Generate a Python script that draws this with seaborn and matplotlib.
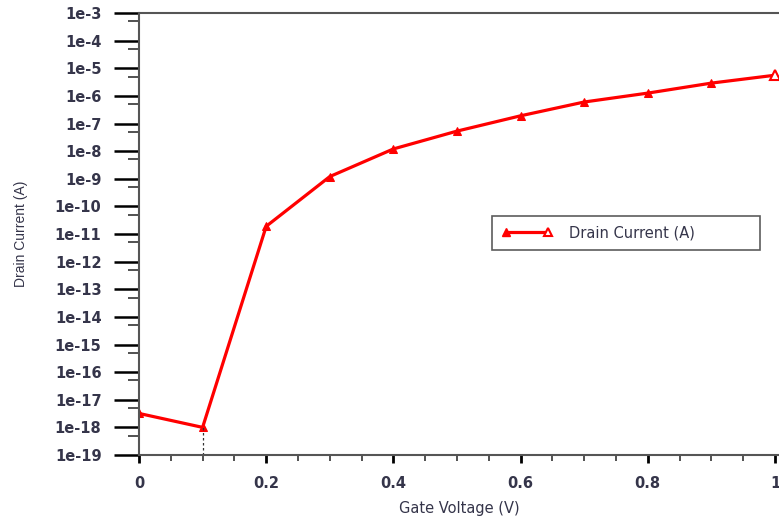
import numpy as np
import pandas as pd
import matplotlib
matplotlib.use("Agg")
import matplotlib.pyplot as plt
import seaborn as sns
from matplotlib.lines import Line2D
from matplotlib.legend_handler import HandlerTuple, HandlerLine2D
from matplotlib.ticker import FixedLocator, MultipleLocator

# datos
gate_voltage = [0.0, 0.1, 0.2, 0.3, 0.4, 0.5, 0.6, 0.7, 0.8, 0.9, 1.0]
drain_current = [3.2e-18, 1.0e-18, 1.9e-11, 1.2e-9, 1.2e-8, 5.3e-8,
                 1.9e-7, 6.0e-7, 1.26e-6, 2.9e-6, 5.6e-6]
y_exps = list(range(-19, -2))
y_labels = [f"1e{e}" for e in y_exps]
x_labels = ["0", "0.2", "0.4", "0.6", "0.8", "1"]

df = pd.DataFrame({"Gate Voltage (V)": gate_voltage,
                   "Drain Current (A)": drain_current})

sns.set_theme(style="white")
plt.rcParams['font.family'] = ['DejaVu Sans']

txt_color = "#35354a"


# handler para dibujar solo un marcador (izq o der) en la leyenda
class HandlerEnds(HandlerLine2D):
    def __init__(self, idx, **kw):
        super().__init__(**kw)
        self.idx = idx

    def create_artists(self, *args, **kw):
        arts = super().create_artists(*args, **kw)
        for a in arts:
            a.set_markevery([self.idx])
        return arts


fig = plt.figure(figsize=(7.79, 5.18), dpi=100)
ax = fig.add_axes([139 / 779, 1 - 455 / 518, 640 / 779, 442 / 518])

sns.lineplot(data=df, x="Gate Voltage (V)", y="Drain Current (A)", ax=ax,
             color="red", linewidth=2.3, marker="^", markersize=6,
             markeredgecolor="red", markerfacecolor="red")
# ultimo punto con triangulo vacio
ax.plot(gate_voltage[-1], drain_current[-1], marker="^", markersize=7,
        markerfacecolor="white", markeredgecolor="red", markeredgewidth=1.5,
        clip_on=False, zorder=5)

# linea punteada en el minimo
ax.vlines(gate_voltage[1], 1e-19, drain_current[1], colors="#333333",
          linestyles=(0, (2, 2)), linewidth=0.9)

ax.set_yscale("log")
ax.set_ylim(1e-19, 1e-3)
ax.set_xlim(0, 640 / 636)

ax.yaxis.set_major_locator(FixedLocator([10.0 ** e for e in y_exps]))
ax.set_yticklabels(y_labels)
ax.yaxis.set_minor_locator(FixedLocator([5 * 10.0 ** e for e in range(-19, -3)]))
ax.yaxis.set_minor_formatter(plt.NullFormatter())

ax.set_xticks([0, 0.2, 0.4, 0.6, 0.8, 1.0])
ax.set_xticklabels(x_labels)
ax.xaxis.set_minor_locator(MultipleLocator(0.05))

ax.tick_params(axis="y", which="major", direction="out", length=18, width=1.8,
               color="black", labelsize=10.5, labelcolor=txt_color, pad=9, left=True)
ax.tick_params(axis="y", which="minor", direction="out", length=8, width=1.2,
               color="#333333", left=True)
ax.tick_params(axis="x", which="major", direction="out", length=6, width=2,
               color="black", labelsize=10.5, labelcolor=txt_color, pad=9, bottom=True)
ax.tick_params(axis="x", which="minor", direction="out", length=4, width=1.2,
               color="#333333", bottom=True)

for lbl in ax.get_xticklabels() + ax.get_yticklabels():
    lbl.set_fontweight("bold")

for side in ["left", "bottom", "top"]:
    ax.spines[side].set_color("#555555")
    ax.spines[side].set_linewidth(1.5)
ax.spines["right"].set_visible(False)

ax.set_xlabel("Gate Voltage (V)", fontsize=10.5, color=txt_color, labelpad=7)
ax.set_ylabel("Drain Current (A)", fontsize=10,
              family=["Liberation Sans Narrow", "Liberation Sans", "DejaVu Sans"],
              color=txt_color, labelpad=19)

# leyenda: triangulo lleno a la izquierda, vacio a la derecha
h_left = Line2D([], [], color="red", linewidth=2.3, marker="^", markersize=6,
                markerfacecolor="red", markeredgecolor="red")
h_right = Line2D([], [], color="red", linewidth=0, marker="^", markersize=6,
                 markerfacecolor="white", markeredgecolor="red",
                 markeredgewidth=1.5)
leg = ax.legend([(h_left, h_right)], ["Drain Current (A)"], loc="upper left",
                handler_map={tuple: HandlerTuple(ndivide=1, pad=0),
                             h_left: HandlerEnds(0), h_right: HandlerEnds(1)},
                bbox_to_anchor=(353 / 640, 205 / 442, 268 / 640, 34 / 442),
                mode="expand", numpoints=2,
                bbox_transform=ax.transAxes, fontsize=10.5, frameon=True,
                fancybox=False, edgecolor="#333333", handlelength=3.5,
                handletextpad=1.1, borderpad=0.65, borderaxespad=0)
leg.get_frame().set_linewidth(1.2)
for t in leg.get_texts():
    t.set_color(txt_color)

plt.savefig("out.png", dpi=100)
